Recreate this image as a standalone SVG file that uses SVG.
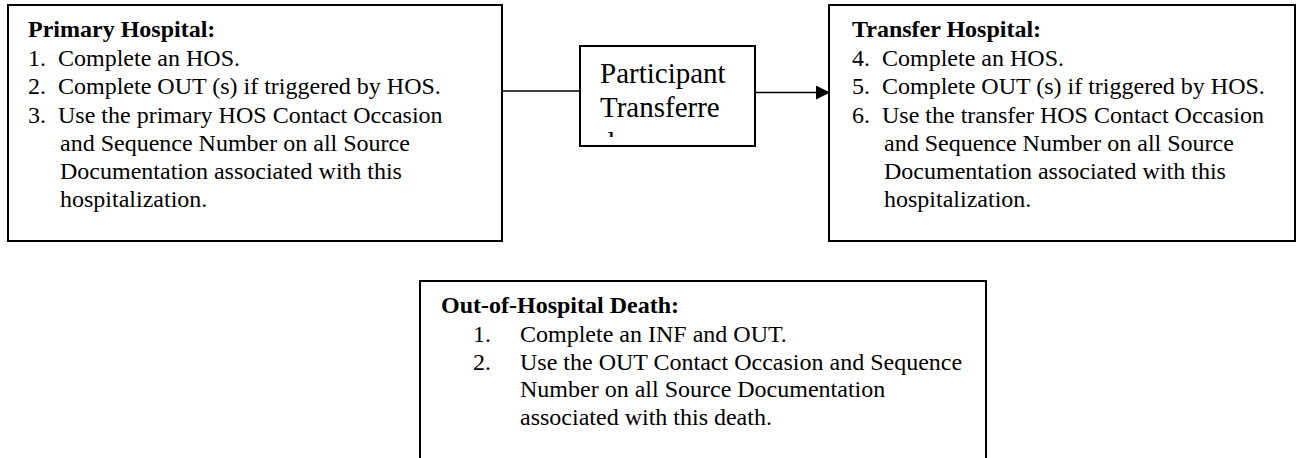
<svg xmlns="http://www.w3.org/2000/svg" width="1298" height="458" viewBox="0 0 1298 458">
<style>
.box{fill:#fff;stroke:#000;stroke-width:2}
.t{font-family:"Liberation Serif","Times New Roman",serif;font-size:24px;fill:#000}
.b{font-weight:bold}
.m{font-family:"Liberation Serif","Times New Roman",serif;font-size:29px;fill:#000}
.c{stroke:#000;stroke-width:1.6;fill:none}
</style>
<defs>
<marker id="arr" markerWidth="14" markerHeight="14" refX="14" refY="7" orient="auto" markerUnits="userSpaceOnUse">
<path d="M0,0 L14,7 L0,14 Z" fill="#000"/>
</marker>
<clipPath id="mclip"><rect x="581" y="47" width="173" height="90"/></clipPath>
</defs>
<g id="connectors">
<line class="c" x1="502" y1="91" x2="580" y2="91"/>
<line class="c" x1="756" y1="92.5" x2="830" y2="92.5" marker-end="url(#arr)"/>
</g>
<g id="primary">
<rect class="box" x="8" y="5" width="494" height="236"/>
<text class="t b" x="28" y="37">Primary Hospital:</text>
<text class="t" x="28" y="66">1.</text><text class="t" x="58" y="66">Complete an HOS.</text>
<text class="t" x="28" y="94">2.</text><text class="t" x="58" y="94">Complete OUT (s) if triggered by HOS.</text>
<text class="t" x="28" y="123">3.</text><text class="t" x="58" y="123">Use the primary HOS Contact Occasion</text>
<text class="t" x="60" y="151">and Sequence Number on all Source</text>
<text class="t" x="60" y="179">Documentation associated with this</text>
<text class="t" x="60" y="207">hospitalization.</text>
</g>
<g id="transferred">
<rect class="box" x="580" y="46" width="175" height="100"/>
<g clip-path="url(#mclip)">
<text class="m" x="600" y="83">Participant</text>
<text class="m" x="600" y="117">Transferre</text>
<text class="m" x="600" y="152">d</text>
</g>
</g>
<g id="transfer">
<rect class="box" x="829" y="5" width="466" height="236"/>
<text class="t b" x="852" y="37">Transfer Hospital:</text>
<text class="t" x="852" y="66">4.</text><text class="t" x="882" y="66">Complete an HOS.</text>
<text class="t" x="852" y="94">5.</text><text class="t" x="882" y="94">Complete OUT (s) if triggered by HOS.</text>
<text class="t" x="852" y="123">6.</text><text class="t" x="882" y="123">Use the transfer HOS Contact Occasion</text>
<text class="t" x="884" y="151">and Sequence Number on all Source</text>
<text class="t" x="884" y="179">Documentation associated with this</text>
<text class="t" x="884" y="207">hospitalization.</text>
</g>
<g id="death">
<rect class="box" x="420" y="281" width="566" height="200"/>
<text class="t b" x="441" y="313">Out-of-Hospital Death:</text>
<text class="t" x="473" y="342">1.</text><text class="t" x="520" y="342">Complete an INF and OUT.</text>
<text class="t" x="473" y="370">2.</text><text class="t" x="520" y="370">Use the OUT Contact Occasion and Sequence</text>
<text class="t" x="520" y="397">Number on all Source Documentation</text>
<text class="t" x="520" y="425">associated with this death.</text>
</g>
</svg>
